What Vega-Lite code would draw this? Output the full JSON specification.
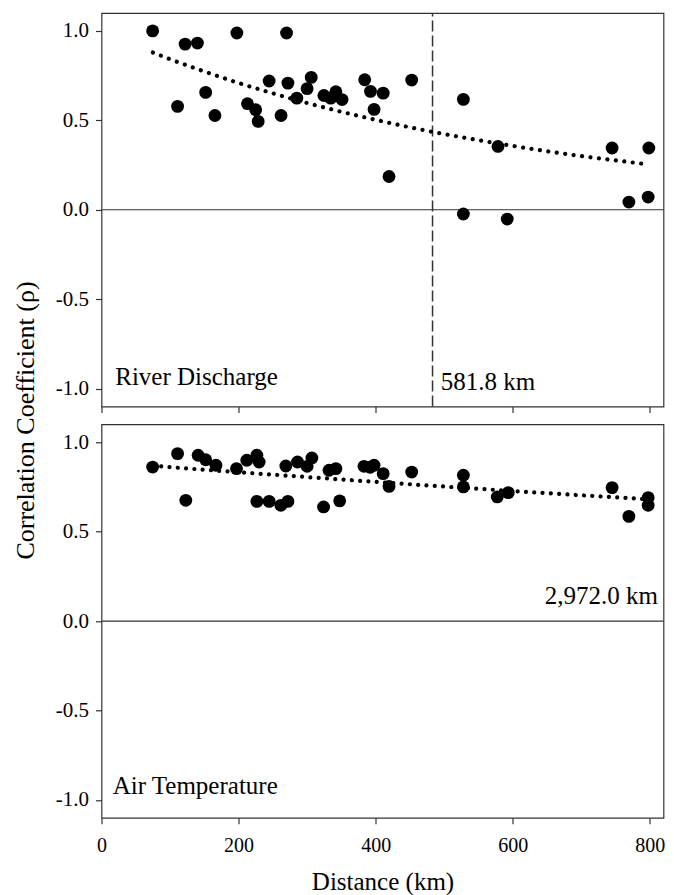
{
  "$schema": "https://vega.github.io/schema/vega-lite/v6.json",
  "padding": {"left": 11.5, "top": 11, "right": 8, "bottom": 2},
  "background": "white",
  "datasets": {
    "discharge": [
      {"d": 74.6, "r": 1.0}, {"d": 111, "r": 0.578}, {"d": 122, "r": 0.926}, {"d": 140, "r": 0.932},
      {"d": 152, "r": 0.656}, {"d": 165.5, "r": 0.527}, {"d": 197.5, "r": 0.988}, {"d": 213, "r": 0.593},
      {"d": 225, "r": 0.559}, {"d": 228.6, "r": 0.494}, {"d": 244.6, "r": 0.72}, {"d": 262, "r": 0.527},
      {"d": 270, "r": 0.988}, {"d": 272, "r": 0.708}, {"d": 285, "r": 0.624}, {"d": 300, "r": 0.677},
      {"d": 306, "r": 0.74}, {"d": 324.5, "r": 0.639}, {"d": 334.5, "r": 0.624}, {"d": 342, "r": 0.66},
      {"d": 351, "r": 0.616}, {"d": 384, "r": 0.727}, {"d": 392.5, "r": 0.662}, {"d": 397.7, "r": 0.561},
      {"d": 411, "r": 0.652}, {"d": 419.5, "r": 0.186}, {"d": 452.6, "r": 0.725}, {"d": 528, "r": 0.617},
      {"d": 528, "r": -0.024}, {"d": 578.5, "r": 0.354}, {"d": 592, "r": -0.052}, {"d": 745, "r": 0.345},
      {"d": 769.5, "r": 0.043}, {"d": 797.6, "r": 0.071}, {"d": 798.6, "r": 0.345}
    ],
    "dischargeFit": [
      {"d": 75, "r": 0.879}, {"d": 100, "r": 0.842}, {"d": 150, "r": 0.773}, {"d": 200, "r": 0.709},
      {"d": 250, "r": 0.651}, {"d": 300, "r": 0.597}, {"d": 350, "r": 0.548}, {"d": 400, "r": 0.503},
      {"d": 450, "r": 0.461}, {"d": 500, "r": 0.423}, {"d": 550, "r": 0.389}, {"d": 600, "r": 0.357},
      {"d": 650, "r": 0.327}, {"d": 700, "r": 0.3}, {"d": 750, "r": 0.276}, {"d": 797, "r": 0.254}
    ],
    "temperature": [
      {"d": 74.6, "r": 0.861}, {"d": 111, "r": 0.936}, {"d": 123, "r": 0.675}, {"d": 141, "r": 0.927},
      {"d": 152, "r": 0.902}, {"d": 167, "r": 0.871}, {"d": 197, "r": 0.852}, {"d": 212, "r": 0.899},
      {"d": 226.7, "r": 0.927}, {"d": 230, "r": 0.889}, {"d": 226.7, "r": 0.669}, {"d": 244.6, "r": 0.669},
      {"d": 261.7, "r": 0.647}, {"d": 272, "r": 0.669}, {"d": 269, "r": 0.867}, {"d": 286, "r": 0.889},
      {"d": 300, "r": 0.865}, {"d": 307, "r": 0.912}, {"d": 324, "r": 0.638}, {"d": 332, "r": 0.843},
      {"d": 342, "r": 0.852}, {"d": 347.5, "r": 0.672}, {"d": 383, "r": 0.865}, {"d": 392, "r": 0.86},
      {"d": 397.7, "r": 0.871}, {"d": 411, "r": 0.824}, {"d": 419.5, "r": 0.753}, {"d": 452.6, "r": 0.833},
      {"d": 528, "r": 0.815}, {"d": 528, "r": 0.75}, {"d": 577.5, "r": 0.694}, {"d": 593.5, "r": 0.718},
      {"d": 745, "r": 0.746}, {"d": 769.5, "r": 0.585}, {"d": 797.6, "r": 0.69}, {"d": 797.6, "r": 0.647}
    ],
    "temperatureFit": [
      {"d": 75, "r": 0.868}, {"d": 150, "r": 0.846}, {"d": 200, "r": 0.832}, {"d": 300, "r": 0.805},
      {"d": 400, "r": 0.778}, {"d": 500, "r": 0.752}, {"d": 600, "r": 0.727}, {"d": 700, "r": 0.703},
      {"d": 797, "r": 0.681}
    ]
  },
  "config": {
    "font": "Liberation Serif, Times New Roman, serif",
    "view": {"stroke": "#333333", "strokeWidth": 1.2},
    "text": {"font": "Liberation Serif, Times New Roman, serif"},
    "axis": {
      "labelFont": "Liberation Serif, Times New Roman, serif", "titleFont": "Liberation Serif, Times New Roman, serif",
      "labelFontSize": 20, "titleFontSize": 25, "titleFontWeight": "normal",
      "labelColor": "black", "titleColor": "black",
      "tickColor": "#333333", "tickWidth": 1.2, "tickSize": 6,
      "domain": false, "grid": false, "labelFlush": false
    }
  },
  "vconcat": [
    {
      "width": 562, "height": 393.5,
      "encoding": {
        "x": {"field": "d", "type": "quantitative",
          "scale": {"domain": [0, 820], "nice": false, "zero": false},
          "axis": {"values": [0, 200, 400, 600, 800], "labels": false, "title": null}},
        "y": {"field": "r", "type": "quantitative",
          "scale": {"domain": [-1.1, 1.1], "nice": false, "zero": false},
          "axis": {"values": [-1, -0.5, 0, 0.5, 1], "labelPadding": 7, "labelFontSize": 21,
            "labelExpr": "datum.value < 0 ? '-' + format(-datum.value, '.1f') : format(datum.value, '.1f')",
            "title": "Correlation Coefficient (ρ)", "titleFontSize": 26, "titleX": -68, "titleY": 407,
            "titleBaseline": "alphabetic", "titleAlign": "center", "titleAngle": -90}}
      },
      "layer": [
        {"data": {"values": [{"d": 0, "d2": 820, "r": 0}]},
          "mark": {"type": "rule", "color": "#333333", "strokeWidth": 1.2},
          "encoding": {"x2": {"field": "d2"}}},
        {"data": {"values": [{"d": 483, "r": -1.1, "r2": 1.1}]},
          "mark": {"type": "rule", "color": "#333333", "strokeWidth": 1.5, "strokeDash": [11, 4]},
          "encoding": {"y2": {"field": "r2"}}},
        {"data": {"name": "dischargeFit"}, "mark": {"type": "line", "color": "black", "strokeWidth": 4.2, "strokeCap": "round", "strokeDash": [0.01, 8.5], "interpolate": "monotone"}},
        {"data": {"name": "discharge"}, "mark": {"type": "circle", "size": 165, "color": "black", "opacity": 1}},
        {"data": {"values": [{"d": 20, "r": -0.979, "label": "River Discharge"}]},
          "mark": {"type": "text", "fontSize": 25, "align": "left", "baseline": "alphabetic", "color": "black"},
          "encoding": {"text": {"field": "label"}}},
        {"data": {"values": [{"d": 495, "r": -1.007, "label": "581.8 km"}]},
          "mark": {"type": "text", "fontSize": 25, "align": "left", "baseline": "alphabetic", "color": "black"},
          "encoding": {"text": {"field": "label"}}}
      ]
    },
    {
      "width": 562, "height": 393.5,
      "encoding": {
        "x": {"field": "d", "type": "quantitative",
          "scale": {"domain": [0, 820], "nice": false, "zero": false},
          "axis": {"values": [0, 200, 400, 600, 800], "labelBaseline": "alphabetic", "labelPadding": 28,
            "title": "Distance (km)", "titleY": 72, "titleBaseline": "alphabetic"}},
        "y": {"field": "r", "type": "quantitative",
          "scale": {"domain": [-1.1, 1.1], "nice": false, "zero": false},
          "axis": {"values": [-1, -0.5, 0, 0.5, 1], "labelPadding": 7, "labelFontSize": 21,
            "labelExpr": "datum.value < 0 ? '-' + format(-datum.value, '.1f') : format(datum.value, '.1f')",
            "title": null}}
      },
      "layer": [
        {"data": {"values": [{"d": 0, "d2": 820, "r": 0}]},
          "mark": {"type": "rule", "color": "#333333", "strokeWidth": 1.2},
          "encoding": {"x2": {"field": "d2"}}},
        {"data": {"name": "temperatureFit"}, "mark": {"type": "line", "color": "black", "strokeWidth": 4.2, "strokeCap": "round", "strokeDash": [0.01, 8.3], "interpolate": "monotone"}},
        {"data": {"name": "temperature"}, "mark": {"type": "circle", "size": 165, "color": "black", "opacity": 1}},
        {"data": {"values": [{"d": 16.3, "r": -0.966, "label": "Air Temperature"}]},
          "mark": {"type": "text", "fontSize": 25, "align": "left", "baseline": "alphabetic", "color": "black"},
          "encoding": {"text": {"field": "label"}}},
        {"data": {"values": [{"d": 812, "r": 0.097, "label": "2,972.0 km"}]},
          "mark": {"type": "text", "fontSize": 25, "align": "right", "baseline": "alphabetic", "color": "black"},
          "encoding": {"text": {"field": "label"}}}
      ]
    }
  ],
  "spacing": 17.3,
  "bounds": "flush"
}
